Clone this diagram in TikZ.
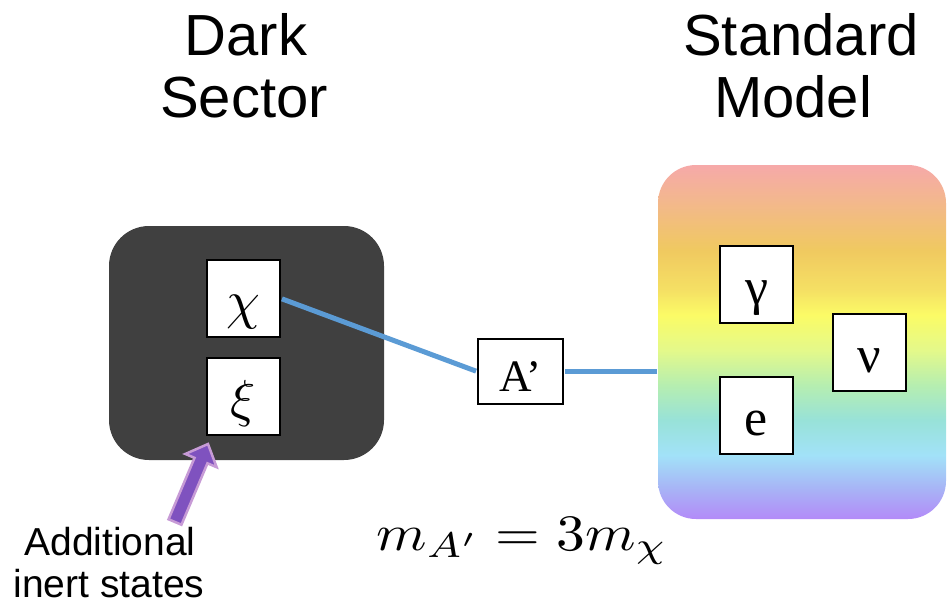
\documentclass[tikz,border=0pt]{standalone}
\usepackage{fontspec}
\setmainfont{Liberation Serif}
\newfontfamily\sansfont{Liberation Sans}
\usepackage{graphicx}
\definecolor{dsgray}{HTML}{404040}
\definecolor{linkblue}{HTML}{5B9BD5}
\definecolor{arrowfill}{HTML}{7F52BF}
\definecolor{arrowedge}{HTML}{C79BD6}
\definecolor{smc0}{HTML}{B38AF8}
\definecolor{smc1}{HTML}{A8B2F6}
\definecolor{smc2}{HTML}{A2E2F8}
\definecolor{smc3}{HTML}{98E2D8}
\definecolor{smc4}{HTML}{B6EEB0}
\definecolor{smc5}{HTML}{E4F98A}
\definecolor{smc6}{HTML}{FBFB66}
\definecolor{smc7}{HTML}{F5E064}
\definecolor{smc8}{HTML}{F0C960}
\definecolor{smc9}{HTML}{F3B78E}
\definecolor{smc10}{HTML}{F6A9A9}
\pgfdeclareverticalshading{smrainbow}{100bp}{color(0bp)=(smc0); color(25bp)=(smc0); color(29.10bp)=(smc1); color(34.04bp)=(smc2); color(38.98bp)=(smc3); color(43.93bp)=(smc4); color(48.87bp)=(smc5); color(53.81bp)=(smc6); color(57.34bp)=(smc7); color(62.99bp)=(smc8); color(70.06bp)=(smc9); color(75bp)=(smc10); color(100bp)=(smc10)}
\begin{document}
\begin{tikzpicture}[x=1pt,y=-1pt,
  title/.style={font=\sansfont\fontsize{58}{62}\selectfont, anchor=base, inner sep=0pt},
  note/.style={font=\sansfont\fontsize{39}{42}\selectfont, anchor=base, inner sep=0pt},
  pbox/.style={draw=black, line width=2pt, fill=white, inner sep=0pt, text height=40pt, text depth=0pt, minimum width=73pt, minimum height=77pt, font=\fontsize{52}{52}\selectfont},
  mbox/.style={pbox, font=\normalsize},
  link/.style={draw=linkblue, line width=5pt, shorten <=1pt, shorten >=1pt}]
\useasboundingbox (0,0) rectangle (948,605);
% sector boxes
\node[fill=dsgray, rounded corners=40pt, minimum width=275pt, minimum height=234pt, inner sep=0pt] (ds) at (246.5,343) {};
\node[shade, shading=smrainbow, rounded corners=38pt, minimum width=288pt, minimum height=354pt, inner sep=0pt] (sm) at (802,342) {};
% titles
\node[title] (dsT1) at (246,55) {Dark};
\node[title] (dsT2) at (244,117) {Sector};
\node[title] (smT1) at (801,55) {Standard};
\node[title] (smT2) at (793,117) {Model};
% particle boxes
\node[mbox] (chi) at (243.5,298.5) {\scalebox{5.4}{$\chi$}};
\node[mbox] (xi) at (243.5,396) {\scalebox{5.2}{$\xi$}};
\node[pbox] (gam) at (756.5,284) {γ};
\node[pbox] (nu) at (869,352) {ν};
\node[pbox] (el) at (756.5,415.5) {e};
\node[pbox, minimum width=85pt, minimum height=65pt, font=\fontsize{45}{45}\selectfont] (ap) at (520.5,371.5) {A’};
% links
\draw[link] (chi.east) -- (ap.west);
\draw[link] (ap.east) -- (ap.east -| sm.west);
% formula
\node[anchor=base, inner sep=0pt] (mass) at (522,550) {\scalebox{5.75}[5.1]{$m_{A'}=3m_\chi$}};
% note and arrow
\node[note] (noteA) at (110,555) {Additional};
\node[note] (noteB) at (109,597) {inert states};
\filldraw[fill=arrowfill, draw=arrowedge, line width=2.5pt, line join=miter] (168.55,519.27) -- (194.54,457.85) -- (185.33,453.96) -- (208,444) -- (216.65,467.20) -- (207.44,463.31) -- (181.45,524.73) -- cycle;
\end{tikzpicture}
\end{document}
